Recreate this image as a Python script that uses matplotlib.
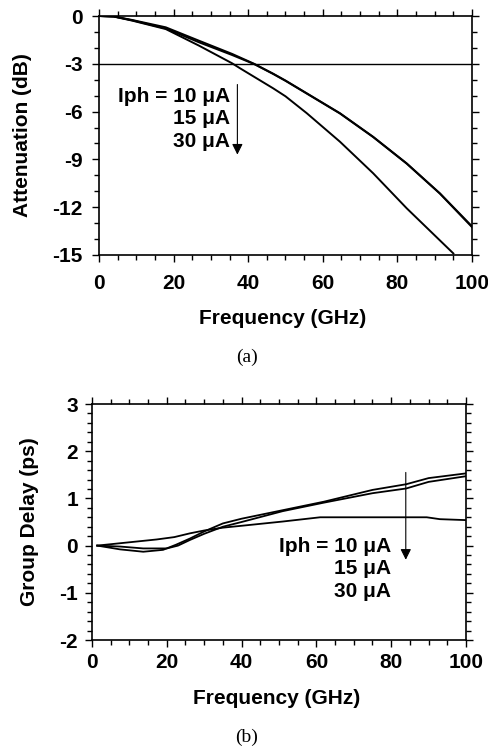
import numpy as np
import matplotlib
matplotlib.use("Agg")
import matplotlib.pyplot as plt
from matplotlib.ticker import MultipleLocator

# (a) attenuation vs frequency
f_att = [0, 4, 8.9, 17.9, 26.8, 35.7, 41.6, 46.7, 50, 55.7, 64.6, 73.5, 82.5, 91.4, 100]
att_10 = [0, -0.03, -0.25, -0.71, -1.55, -2.38, -3.0, -3.62, -4.05, -4.85, -6.1, -7.58, -9.25, -11.13, -13.2]
att_15 = [0, -0.03, -0.27, -0.78, -1.65, -2.45, -3.02, -3.64, -4.07, -4.87, -6.12, -7.6, -9.27, -11.15, -13.25]
f_att30 = [0, 4, 8.9, 17.9, 26.8, 35.7, 37.8, 46.7, 50, 55.7, 64.6, 73.5, 82.5, 95]
att_30 = [0, -0.04, -0.29, -0.82, -1.86, -2.97, -3.28, -4.54, -5.04, -6.1, -7.89, -9.87, -12.07, -14.9]

# (b) group delay vs frequency
f_gd10 = [1.4, 7.5, 13.7, 19, 22.5, 26.2, 30, 35, 40, 51, 62, 75, 84, 90, 100]
gd_10 = [0, -0.08, -0.13, -0.09, 0.02, 0.15, 0.3, 0.47, 0.57, 0.75, 0.93, 1.18, 1.3, 1.43, 1.53]
f_gd15 = [1.4, 7.5, 13.7, 20, 23, 26.2, 30, 35, 40, 51, 62, 75, 84, 90, 100]
gd_15 = [0, -0.02, -0.06, -0.06, 0.0, 0.12, 0.25, 0.4, 0.5, 0.73, 0.91, 1.11, 1.21, 1.35, 1.47]
f_gd30 = [1.4, 7.5, 17.3, 22, 26.2, 30, 35, 40, 51, 61, 70, 80, 89.5, 93, 100]
gd_30 = [0, 0.05, 0.13, 0.18, 0.26, 0.32, 0.38, 0.42, 0.51, 0.6, 0.6, 0.6, 0.6, 0.56, 0.54]

labels = ["Iph = 10 \u03bcA", "15 \u03bcA", "30 \u03bcA"]

plt.rcParams['font.family'] = ['Liberation Sans', 'DejaVu Sans']
plt.rcParams['axes.unicode_minus'] = False
W, H = 489, 749
fig = plt.figure(figsize=(W / 100, H / 100), dpi=100)


def axes_px(l, r, t, b):
    return fig.add_axes([l / W, 1 - b / H, (r - l) / W, (b - t) / H])


ax1 = axes_px(99, 472, 16, 255)
ax2 = axes_px(92, 466, 404, 640)


def style(ax, ymaj, ymin, xpad, ypad):
    ax.set_xlim(0, 100)
    ax.xaxis.set_major_locator(MultipleLocator(20))
    ax.xaxis.set_minor_locator(MultipleLocator(5))
    ax.yaxis.set_major_locator(MultipleLocator(ymaj))
    ax.yaxis.set_minor_locator(MultipleLocator(ymin))
    ax.tick_params(which='both', direction='out', top=True, right=True,
                   labelsize=15, width=1)
    ax.tick_params(which='major', length=5)
    ax.tick_params(which='minor', length=3.5)
    ax.tick_params(axis='x', pad=xpad)
    ax.tick_params(axis='y', pad=ypad)
    for lab in ax.get_xticklabels() + ax.get_yticklabels():
        lab.set_fontweight('bold')
    for s in ax.spines.values():
        s.set_linewidth(1.2)


def ftext(x, y, s, **kw):
    fig.text(x / W, 1 - y / H, s, ha='center', va='center', **kw)


ax1.plot(f_att, att_10, color='black', lw=1.4)
ax1.plot(f_att, att_15, color='black', lw=1.4)
ax1.plot(f_att30, att_30, color='black', lw=1.4)
ax1.axhline(-3, color='black', lw=1)
ax1.set_ylim(-15, 0)
style(ax1, 3, 1, 9, 7)
for t, y in zip(labels, [-5.08, -6.43, -7.9]):
    ax1.text(35.1, y, t, ha='right', va='center', fontsize=15, fontweight='bold')
ax1.annotate("", xy=(37.1, -8.7), xytext=(37.1, -4.3),
             arrowprops=dict(arrowstyle='-|>', color='black', lw=0.8,
                             mutation_scale=16, shrinkA=0, shrinkB=0))

ax2.plot(f_gd10, gd_10, color='black', lw=1.3)
ax2.plot(f_gd15, gd_15, color='black', lw=1.3)
ax2.plot(f_gd30, gd_30, color='black', lw=1.3)
ax2.set_ylim(-2, 3)
style(ax2, 1, 0.2, 4, 5)
for t, y in zip(labels, [-0.02, -0.49, -0.97]):
    ax2.text(80, y, t, ha='right', va='center', fontsize=15, fontweight='bold')
ax2.annotate("", xy=(83.9, -0.3), xytext=(83.9, 1.55),
             arrowprops=dict(arrowstyle='-|>', color='black', lw=0.8,
                             mutation_scale=16, shrinkA=0, shrinkB=0))

ftext(283, 318, "Frequency (GHz)", fontsize=15, fontweight='bold')
ftext(23, 135, "Attenuation (dB)", fontsize=15, fontweight='bold', rotation=90)
ftext(247, 357, "(a)", fontsize=14, family='Liberation Serif')
ftext(277, 698, "Frequency (GHz)", fontsize=15, fontweight='bold')
ftext(30, 522, "Group Delay (ps)", fontsize=15, fontweight='bold', rotation=90)
ftext(247, 737, "(b)", fontsize=14, family='Liberation Serif')

fig.savefig("out.png", dpi=100)
